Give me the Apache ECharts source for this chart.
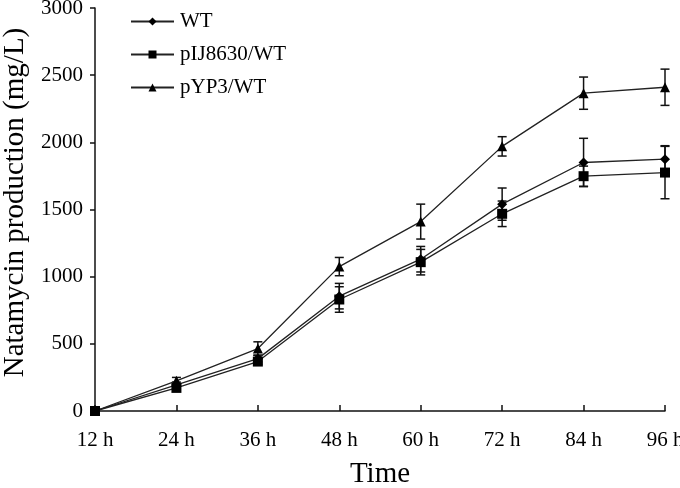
<!DOCTYPE html>
<html>
<head>
<meta charset="utf-8">
<script src="https://cdn.jsdelivr.net/npm/echarts@6/dist/echarts.min.js"></script>
<style>
html,body{margin:0;padding:0;background:#fff;}
#chart{width:680px;height:488px;}
</style>
</head>
<body>
<div id="chart"></div>
<script>
var categories = ['12 h','24 h','36 h','48 h','60 h','72 h','84 h','96 h'];
var wt = [0, 195, 390, 855, 1130, 1540, 1850, 1875];
var wtErr = [0, 20, 25, 95, 95, 120, 180, 100];
var pij = [0, 172, 368, 830, 1108, 1468, 1748, 1775];
var pijErr = [0, 15, 20, 95, 95, 95, 75, 195];
var pyp = [0, 225, 465, 1075, 1410, 1970, 2366, 2410];
var pypErr = [0, 25, 50, 68, 130, 72, 120, 135];
var yTicks = [0, 500, 1000, 1500, 2000, 2500, 3000];

var FONT = 'Liberation Serif';
var INK = '#111';

function errData(vals, errs) {
  var out = [];
  for (var i = 0; i < vals.length; i++) {
    if (errs[i] > 0) out.push([i, vals[i] - errs[i], vals[i] + errs[i]]);
  }
  return out;
}

function renderErr(params, api) {
  var x = api.value(0);
  var lo = api.coord([x, api.value(1)]);
  var hi = api.coord([x, api.value(2)]);
  var hw = 4.5;
  var st = {stroke: INK, lineWidth: 1.5};
  return {
    type: 'group',
    children: [
      {type: 'line', shape: {x1: lo[0], y1: lo[1], x2: hi[0], y2: hi[1]}, style: st},
      {type: 'line', shape: {x1: lo[0] - hw, y1: lo[1], x2: lo[0] + hw, y2: lo[1]}, style: st},
      {type: 'line', shape: {x1: hi[0] - hw, y1: hi[1], x2: hi[0] + hw, y2: hi[1]}, style: st}
    ]
  };
}

function lineSeries(name, data, symbol, size) {
  return {
    name: name, type: 'line', data: data,
    symbol: symbol, symbolSize: size, showSymbol: true,
    lineStyle: {color: '#222', width: 1.3},
    itemStyle: {color: '#000', borderWidth: 0},
    z: 3, animation: false
  };
}

function errSeries(name, vals, errs) {
  return {
    name: name, type: 'custom', renderItem: renderErr,
    data: errData(vals, errs), z: 2, animation: false,
    encode: {x: 0, y: [1, 2]}
  };
}

var chart = echarts.init(document.getElementById('chart'), null, {renderer: 'canvas'});
chart.setOption({
  backgroundColor: '#fff',
  animation: false,
  grid: {left: 95, right: 15, top: 8, bottom: 77, containLabel: false, outerBoundsMode: 'none'},
  legend: {
    orient: 'vertical', left: 130, top: 11, padding: 0,
    itemWidth: 43, itemHeight: 10, itemGap: 12,
    data: ['WT', 'pIJ8630/WT', 'pYP3/WT'],
    textStyle: {fontFamily: FONT, fontSize: 21, color: '#000', padding: [0, 0, 0, 1]}
  },
  xAxis: {
    type: 'category', data: categories, boundaryGap: false,
    name: 'Time', nameLocation: 'middle', nameGap: 49,
    nameTextStyle: {fontFamily: FONT, fontSize: 29, color: '#000'},
    axisLine: {lineStyle: {color: INK, width: 1.5}},
    axisTick: {inside: true, length: 6, lineStyle: {color: INK, width: 1.5}},
    axisLabel: {fontFamily: FONT, fontSize: 21, color: '#000', margin: 19},
    splitLine: {show: false}
  },
  yAxis: {
    type: 'value', min: yTicks[0], max: yTicks[yTicks.length - 1], interval: 500,
    name: 'Natamycin production (mg/L)', nameLocation: 'middle', nameGap: 62,
    nameTextStyle: {fontFamily: FONT, fontSize: 29, color: '#000', padding: [0, 0, 0, 14]},
    axisLine: {show: true, lineStyle: {color: INK, width: 1.5}},
    axisTick: {show: true, length: 5, lineStyle: {color: INK, width: 1.5}},
    axisLabel: {fontFamily: FONT, fontSize: 21, color: '#000', margin: 12,
      formatter: function (v) { return String(v); }},
    splitLine: {show: false}
  },
  series: [
    lineSeries('WT', wt, 'diamond', 10),
    lineSeries('pIJ8630/WT', pij, 'rect', 10),
    lineSeries('pYP3/WT', pyp, 'triangle', 10),
    errSeries('WT', wt, wtErr),
    errSeries('pIJ8630/WT', pij, pijErr),
    errSeries('pYP3/WT', pyp, pypErr)
  ]
});
</script>
</body>
</html>
